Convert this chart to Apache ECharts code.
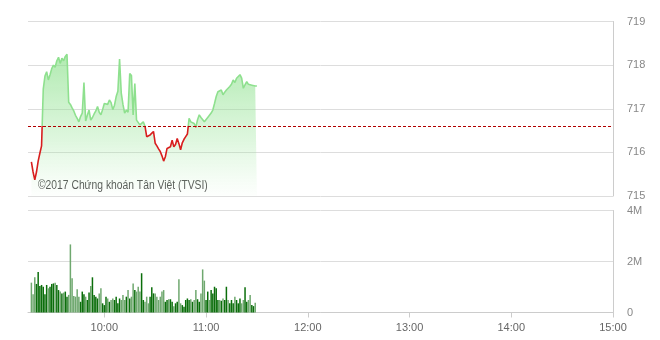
<!DOCTYPE html>
<html>
<head>
<meta charset="utf-8">
<script src="https://cdn.jsdelivr.net/npm/echarts@6/dist/echarts.min.js"></script>
<style>
html,body{margin:0;padding:0;background:#fff;}
#c{width:660px;height:340px;}
</style>
</head>
<body>
<div id="c"></div>
<script>
// Session minutes 9:15 .. 15:00 (axis categories)
function fmt(m){return Math.floor(m/60)+':'+String(m%60).padStart(2,'0');}
const categories=[];
for(let m=555;m<=900;m++) categories.push(fmt(m));
const hourTicks=['10:00','11:00','12:00','13:00','14:00','15:00'];

const refPrice=716.6;
const dataStart='9:17';
const prices=[
715.78,715.55,715.37,715.55,715.80,715.98,716.15,717.45,717.75,717.85,
717.66,717.78,717.92,718.00,717.95,718.10,718.18,718.04,718.16,718.10,
718.20,718.25,717.15,717.10,717.02,716.95,716.85,716.78,716.70,716.82,
716.90,717.60,716.72,716.85,716.97,716.74,716.80,716.88,716.95,717.05,
716.92,716.86,716.98,717.12,717.16,717.10,717.20,717.14,716.98,717.08,
717.28,717.40,718.14,717.36,717.10,716.90,716.97,716.92,717.81,717.76,
716.86,717.58,716.74,716.70,716.63,716.66,716.70,716.60,716.36,716.32,
716.40,716.44,716.48,716.21,716.15,716.08,716.02,715.92,715.80,715.90,
716.09,716.05,716.13,716.28,716.13,716.18,716.32,716.20,716.06,716.22,
716.30,716.36,716.42,716.78,716.70,716.74,716.66,716.58,716.75,716.86,
716.80,716.76,716.70,716.74,716.80,716.78,716.90,716.97,717.12,717.28,
717.39,717.35,717.43,717.32,717.38,717.43,717.40,717.51,717.56,717.66,
717.60,717.70,717.74,717.78,717.70,717.47,717.55,717.62,717.56,717.52,
717.54,717.58,717.52,717.52
];
const volumes=[
1.17,0.72,1.38,1.12,1.59,1.04,1.08,1.01,0.72,1.08,
0.95,1.01,1.12,1.14,1.17,1.08,0.88,0.82,0.75,0.78,
0.82,0.62,0.69,2.67,1.34,0.65,0.62,0.91,0.62,0.42,
0.82,0.72,0.62,0.49,0.78,1.04,1.38,0.69,0.62,0.55,
0.75,0.95,0.36,0.29,0.62,0.55,0.42,0.49,0.55,
0.49,0.62,0.36,0.55,0.49,0.69,0.49,0.62,0.88,0.55,
0.62,1.14,0.88,0.82,1.01,0.82,1.54,0.49,0.42,0.62,
0.36,0.62,0.99,0.75,0.75,0.62,0.49,0.62,0.82,0.88,
0.42,0.49,0.52,0.52,0.42,0.25,0.36,0.42,1.30,
0.36,0.29,0.23,0.49,0.55,0.49,0.52,0.42,0.49,0.88,
0.52,0.42,0.75,1.69,1.25,0.49,0.82,0.49,0.88,0.75,
1.01,0.95,0.49,0.49,0.46,0.55,0.49,1.01,0.49,0.36,
0.49,0.36,0.62,0.49,0.36,0.55,0.36,0.49,
0.99,0.42,0.49,0.69,0.29,0.25,0.38
];

const i0=categories.indexOf(dataStart);
const priceData=prices.map((v,i)=>[i0+i,v]);
const volData=volumes.map((v,i)=>[i0+i,v*1e6]);

const chart=echarts.init(document.getElementById('c'),null,{renderer:'canvas'});
const grids=[
  {left:28,right:47,top:21.5,height:174.5},
  {left:28,right:47,top:210.5,height:102}
];
const labelFont={fontFamily:'Liberation Sans, Arial, sans-serif',fontSize:11,color:'#888'};
chart.setOption({
  animation:false,
  grid:grids,
  visualMap:{
    show:false,seriesIndex:0,dimension:1,
    pieces:[{gte:700,lt:refPrice,color:'#d81e1e'},{gte:refPrice,lte:730,color:'#8ee08e'}],
    outOfRange:{color:'#8ee08e'}
  },
  xAxis:[
    {gridIndex:0,type:'category',data:categories,boundaryGap:false,
     axisLine:{show:false},axisTick:{show:false},axisLabel:{show:false},splitLine:{show:false}},
    {gridIndex:1,type:'category',data:categories,boundaryGap:false,
     axisLine:{show:true,lineStyle:{color:'#ccc'}},
     axisTick:{show:true,length:5,lineStyle:{color:'#ccc'},interval:(i,v)=>hourTicks.includes(v)},
     axisLabel:Object.assign({interval:(i,v)=>hourTicks.includes(v),margin:10},labelFont,{color:'#666'}),
     splitLine:{show:false}}
  ],
  yAxis:[
    {gridIndex:0,type:'value',position:'right',min:715,max:719,interval:1,
     axisLine:{show:true,lineStyle:{color:'#ccc'}},axisTick:{show:false},
     axisLabel:Object.assign({margin:14},labelFont),
     splitLine:{lineStyle:{color:'#ddd'}}},
    {gridIndex:1,type:'value',position:'right',min:0,max:4e6,interval:2e6,
     axisLine:{show:true,lineStyle:{color:'#ccc'}},axisTick:{show:false},
     axisLabel:Object.assign({margin:14,formatter:v=>v===0?'0':(v/1e6)+'M'},labelFont),
     splitLine:{lineStyle:{color:'#ddd'}}}
  ],
  series:[
    {type:'line',xAxisIndex:0,yAxisIndex:0,data:priceData,showSymbol:false,
     lineStyle:{width:1.6},
     areaStyle:{origin:'start',color:new echarts.graphic.LinearGradient(0,0,0,1,[
       {offset:0,color:'rgba(130,222,130,0.9)'},
       {offset:0.6,color:'rgba(150,228,150,0.45)'},
       {offset:1,color:'rgba(170,235,170,0.03)'}])},
     markLine:{silent:true,symbol:'none',label:{show:false},
       lineStyle:{color:'#b00000',type:[3,2],width:1},
       data:[{yAxis:refPrice}]}},
    {type:'bar',xAxisIndex:1,yAxisIndex:1,data:volData,barWidth:1.5,
     itemStyle:{color:p=>{const k=p.dataIndex;return (k>0&&prices[k]>=prices[k-1])?'#0b6e0b':'#6fa86f';}}}
  ],
  graphic:[
    {type:'text',left:38,top:180,scaleX:0.86,style:{text:'©2017 Chứng khoán Tân Việt (TVSI)',
      font:'12px "Liberation Sans", Arial, sans-serif',fill:'#555'}}
  ]
});
</script>
</body>
</html>
